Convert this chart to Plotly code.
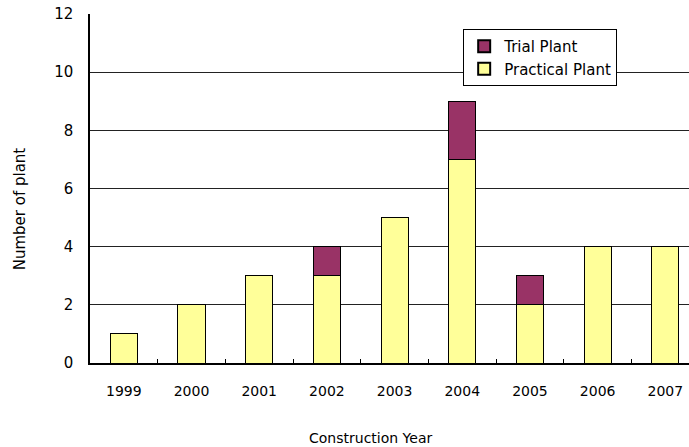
import plotly.graph_objects as go

years = ["1999", "2000", "2001", "2002", "2003", "2004", "2005", "2006", "2007"]
practical = [1, 2, 3, 3, 5, 7, 2, 4, 4]
trial = [0, 0, 0, 1, 0, 2, 1, 0, 0]
y_ticks = [0, 2, 4, 6, 8, 10, 12]

FONT = "DejaVu Sans"

fig = go.Figure()
fig.add_trace(go.Bar(x=years, y=practical, name="Practical Plant",
                     marker=dict(color="#FFFF99", line=dict(color="black", width=1)),
                     width=0.4))
fig.add_trace(go.Bar(x=years, y=trial, name="Trial Plant",
                     marker=dict(color="#993366", line=dict(color="black", width=1)),
                     width=0.4))

fig.update_layout(
    width=689, height=447,
    margin=dict(l=90, r=0, t=14, b=84, autoexpand=False),
    barmode="stack",
    plot_bgcolor="white", paper_bgcolor="white",
    font=dict(family=FONT, size=15, color="black"),
    showlegend=True,
    legend=dict(traceorder="reversed", x=0.623, y=0.957, xanchor="left", yanchor="top",
                bgcolor="white", bordercolor="black", borderwidth=1,
                font=dict(family=FONT, size=15), itemsizing="constant",
                tracegroupgap=0, itemwidth=30),
    xaxis=dict(type="category", range=[-0.5, 8.35], showline=True, linecolor="black",
               linewidth=1.5, ticks="inside", tickson="boundaries", ticklen=4,
               tickcolor="black", showgrid=False, ticklabelstandoff=14,
               automargin=False, tickfont=dict(family=FONT, size=14)),
    yaxis=dict(range=[0, 12], tickvals=y_ticks, showline=True, linecolor="black",
               linewidth=1.5, showgrid=True, gridcolor="#222222", gridwidth=1,
               ticks="", ticklabelstandoff=12, zeroline=False, automargin=False,
               tickfont=dict(family=FONT, size=15)),
    annotations=[
        dict(text="Number of plant", xref="paper", yref="paper", x=-0.117, y=0.443,
             xanchor="center", yanchor="middle",
             textangle=-90, showarrow=False, font=dict(family=FONT, size=15)),
        dict(text="Construction Year", xref="paper", yref="paper", x=0.469, y=-0.215,
             xanchor="center", yanchor="middle",
             showarrow=False, font=dict(family=FONT, size=14)),
    ],
)

fig.write_html("out.html", config={"displayModeBar": False})
with open("out.html", "r", encoding="utf-8") as f:
    html = f.read()
html = html.replace("<head>", "<head><style>html,body{margin:0;padding:0;overflow:hidden;}</style>", 1)
with open("out.html", "w", encoding="utf-8") as f:
    f.write(html)
